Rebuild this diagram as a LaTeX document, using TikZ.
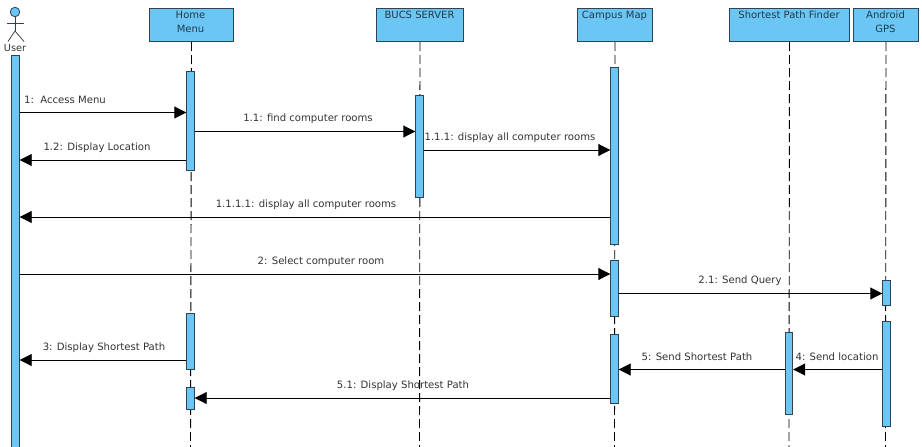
\documentclass[tikz,border=0pt]{standalone}
\usepackage{fontspec}
\setmainfont{DejaVu Sans}
\usetikzlibrary{arrows.meta}
\definecolor{fillblue}{HTML}{6CC6F4}
\definecolor{edgedark}{HTML}{2F4450}
\definecolor{labelgrey}{HTML}{333333}
\definecolor{headtext}{HTML}{1F3A4C}
\tikzset{
  x=1pt,y=-1pt,
  headbox/.style={draw=edgedark,fill=fillblue,line width=1pt,inner sep=0,anchor=north west,align=center},
  headtxt/.style={inner sep=0,anchor=north,align=center,text=headtext,font=\fontsize{10}{14}\selectfont},
  lifeline/.style={draw=black,line width=0.9pt,dash pattern=on 9pt off 4pt},
  bar/.style={draw=edgedark,fill=fillblue,line width=0.9pt,minimum width=7.5pt,inner sep=0,anchor=north},
  msg/.style={draw=black,line width=0.9pt,-{Triangle[length=12pt,width=12pt]}},
  msglabel/.style={inner sep=0,text=labelgrey,font=\fontsize{10.1}{11}\selectfont},
  stick/.style={draw=edgedark,line width=0.8pt}
}
\newcommand{\headnode}[7]{%
  \node[headbox,minimum width=#4pt,minimum height=33pt] (#1) at (#2,#3) {};
  \node[headtxt] (#1t) at (#5,#6) {#7};}
\newcommand{\barnode}[4]{%
  \node[bar,minimum height=#4pt] (#1) at (#2,#3) {};}
\begin{document}
\begin{tikzpicture}
\useasboundingbox (0,0) rectangle (922,447);
% heads
\headnode{home}{149}{8}{84}{190.5}{11}{Home\\Menu}
\headnode{bucs}{376}{8}{87}{419.5}{11}{BUCS SERVER}
\headnode{campus}{577}{8}{75}{614.5}{11}{Campus Map}
\headnode{spf}{729}{8}{120}{789}{11}{Shortest Path Finder}
\headnode{gps}{853}{8}{65}{885.5}{11}{Android\\GPS}
% lifeline ends
\coordinate (homeb) at (190.5,447);
\coordinate (bucsb) at (419.5,447);
\coordinate (campusb) at (614.5,447);
\coordinate (spfb) at (789,447);
\coordinate (gpsb) at (885.5,447);
\draw[lifeline] (home.south) -- (homeb);
\draw[lifeline] (bucs.south) -- (bucsb);
\draw[lifeline] (campus.south) -- (campusb);
\draw[lifeline] (spf.south) -- (spfb);
\draw[lifeline] (gps.south) -- (gpsb);
% actor
\node[draw=edgedark,fill=fillblue,circle,line width=0.8pt,minimum size=9.5pt,inner sep=0] (uhead) at (15,12) {};
\coordinate (uhip) at (15,31);
\coordinate (uarml) at (7,23);
\coordinate (uarmr) at (24,23);
\coordinate (ulegl) at (8,41.5);
\coordinate (ulegr) at (24,41.5);
\draw[stick] (uhead.south) -- (uhip);
\draw[stick] (uarml) -- (uarmr);
\draw[stick] (ulegl) -- (uhip) -- (ulegr);
\node[inner sep=0,text=labelgrey,font=\fontsize{9.7}{11}\selectfont] (ulabel) at (15,48) {User};
% activation bars
\barnode{ub}{15.5}{54.5}{393}
\barnode{ha}{190.5}{70.5}{99}
\barnode{hb}{190.5}{313}{56}
\barnode{hc}{190.5}{387}{22}
\barnode{ba}{419.5}{94.5}{102}
\barnode{ca}{614.5}{66.5}{177.5}
\barnode{cb}{614.5}{260}{56}
\barnode{cc}{614.5}{333.5}{69}
\barnode{sa}{789}{331.5}{82}
\barnode{ga}{886.5}{279.5}{25.5}
\barnode{gb}{886.5}{320.5}{105}
% messages
\draw[msg] (ub.east |- 0,112.5) -- (ha.west |- 0,112.5);
\draw[msg] (ha.east |- 0,131.5) -- (ba.west |- 0,131.5);
\draw[msg] (ba.east |- 0,150) -- (ca.west |- 0,150);
\draw[msg] (ha.west |- 0,160) -- (ub.east |- 0,160);
\draw[msg] (ca.west |- 0,217) -- (ub.east |- 0,217);
\draw[msg] (ub.east |- 0,274) -- (cb.west |- 0,274);
\draw[msg] (cb.east |- 0,293.5) -- (ga.west |- 0,293.5);
\draw[msg] (hb.west |- 0,360) -- (ub.east |- 0,360);
\draw[msg] (sa.west |- 0,369.5) -- (cc.east |- 0,369.5);
\draw[msg] (gb.west |- 0,369.5) -- (sa.east |- 0,369.5);
\draw[msg] (cc.west |- 0,398) -- (hc.east |- 0,398);
% labels
\node[msglabel] (m1) at (65,100) {1:\ \ Access Menu};
\node[msglabel] (m2) at (308,118.5) {1.1: find computer rooms};
\node[msglabel] (m3) at (510,138) {1.1.1: display all computer rooms};
\node[msglabel] (m4) at (97,147.5) {1.2: Display Location};
\node[msglabel] (m5) at (306,204.5) {1.1.1.1: display all computer rooms};
\node[msglabel] (m6) at (321,261.5) {2: Select computer room};
\node[msglabel] (m7) at (740,281) {2.1: Send Query};
\node[msglabel] (m8) at (104,347.5) {3: Display Shortest Path};
\node[msglabel] (m9) at (697,357) {5: Send Shortest Path};
\node[msglabel] (m10) at (837,357) {4: Send location};
\node[msglabel] (m11) at (403,385.5) {5.1: Display Shortest Path};
\end{tikzpicture}
\end{document}
